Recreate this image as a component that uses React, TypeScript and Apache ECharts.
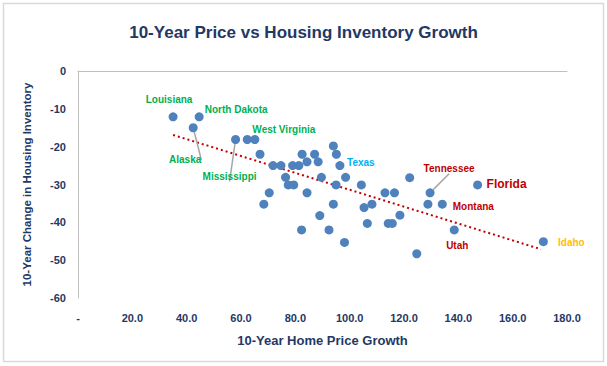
import React, { useEffect, useRef } from "react";
import * as echarts from "echarts";

// 10-year home price growth (x) and 10-year change in housing inventory (y), one point per state
const priceGrowth = [
  35.0, 44.6, 42.4, 58.0, 62.3, 65.1, 67.0, 71.8, 74.7, 76.4, 77.4, 79.4, 79.0, 81.3, 82.5, 84.3, 87.1,
  88.4, 94.0, 95.1, 96.4, 89.6, 95.0, 98.5, 104.3, 70.4, 68.4, 84.3, 94.0, 89.0, 82.3, 92.4, 98.1, 122.1,
  113.0, 116.5, 129.6, 108.2, 105.3, 118.5, 106.5, 114.2, 115.7, 128.8, 134.1, 138.5, 124.7, 147.1, 171.3,
];
const inventoryChange = [
  -12.1, -12.1, -15.0, -18.1, -18.1, -18.1, -22.0, -25.0, -25.0, -28.1, -30.1, -30.1, -25.0, -25.0, -22.0,
  -24.0, -22.0, -24.0, -19.8, -22.0, -25.0, -28.1, -30.1, -28.1, -30.1, -32.2, -35.2, -32.2, -35.2, -38.2,
  -42.0, -42.0, -45.3, -28.2, -32.2, -32.2, -32.2, -35.2, -36.1, -38.1, -40.3, -40.3, -40.3, -35.2, -35.2,
  -42.0, -48.3, -30.1, -45.1,
];
const stateNames = [
  "Louisiana", "North Dakota", "Alaska", "Mississippi", "", "West Virginia", "", "", "", "", "", "", "", "",
  "", "", "", "", "", "", "Texas", "", "", "", "", "", "", "", "", "", "", "", "", "", "", "", "Tennessee",
  "", "", "", "", "", "", "", "Montana", "Utah", "", "Florida", "Idaho",
];

// linear trend line end points
const trendX = [35.0, 170.4];
const trendY = [-16.9, -47.1];

// axis ticks
const xTicks = [0, 20, 40, 60, 80, 100, 120, 140, 160, 180];
const yTicks = [-60, -50, -40, -30, -20, -10, 0];

const GREEN = "#00B050";
const RED = "#C00000";
const NAVY = "#1F3864";

const labelStyles: Record<string, { color: string; offset: number[]; size?: number; guide?: boolean }> = {
  Louisiana: { color: GREEN, offset: [-4, -17] },
  "North Dakota": { color: GREEN, offset: [37, -7] },
  Alaska: { color: GREEN, offset: [-8, 32], guide: true },
  Mississippi: { color: GREEN, offset: [-6, 37], guide: true },
  "West Virginia": { color: GREEN, offset: [29, -10] },
  Texas: { color: "#00B0F0", offset: [21, -3] },
  Tennessee: { color: RED, offset: [19, -24], guide: true },
  Florida: { color: RED, offset: [29, -1], size: 12 },
  Montana: { color: RED, offset: [31, 2] },
  Utah: { color: RED, offset: [3, 16] },
  Idaho: { color: "#FFC000", offset: [28, 1] },
};

const FONT = "'Liberation Sans', Arial, sans-serif";

export default function App() {
  const ref = useRef<HTMLDivElement>(null);
  useEffect(() => {
    if (!ref.current) return;
    const chart = echarts.init(ref.current, null, { renderer: "svg" });

    const points = priceGrowth.map((x, i) => {
      const name = stateNames[i];
      const st = name ? labelStyles[name] : undefined;
      const item: any = { value: [x, inventoryChange[i]], name };
      if (st) {
        item.label = {
          show: true,
          formatter: name,
          position: "inside",
          offset: st.offset,
          color: st.color,
          fontSize: st.size || 10,
          fontWeight: "bold",
          fontFamily: FONT,
        };
        if (st.guide) {
          item.labelLine = { show: true, lineStyle: { color: "#A6A6A6", width: 1.5 } };
        }
      }
      return item;
    });

    chart.setOption({
      animation: false,
      backgroundColor: "#ffffff",
      title: {
        text: "10-Year Price vs Housing Inventory Growth",
        left: "center",
        top: 19,
        textStyle: { color: NAVY, fontSize: 17, fontWeight: "bold", fontFamily: FONT },
      },
      grid: { left: 78, top: 71, right: 40, bottom: 68, containLabel: false },
      xAxis: [
        {
          type: "value",
          min: xTicks[0],
          max: xTicks[xTicks.length - 1],
          interval: 20,
          position: "bottom",
          axisLine: { show: false, onZero: false },
          axisTick: { show: false },
          splitLine: { show: false },
          axisLabel: {
            margin: 14,
            color: NAVY,
            fontWeight: "bold",
            fontSize: 11,
            fontFamily: FONT,
            formatter: (v: number) => (v === 0 ? "-" : v.toFixed(1)),
          },
          name: "10-Year Home Price Growth",
          nameLocation: "middle",
          nameGap: 36,
          nameTextStyle: { color: NAVY, fontWeight: "bold", fontSize: 13, fontFamily: FONT },
        },
        {
          type: "value",
          min: xTicks[0],
          max: xTicks[xTicks.length - 1],
          position: "top",
          axisLine: { show: true, onZero: false, lineStyle: { color: "#BFBFBF", width: 1 } },
          axisTick: { show: false },
          axisLabel: { show: false },
          splitLine: { show: false },
        },
      ],
      yAxis: {
        type: "value",
        min: yTicks[0],
        max: yTicks[yTicks.length - 1],
        interval: 10,
        axisLine: { show: true, onZero: false, lineStyle: { color: "#BFBFBF", width: 1 } },
        axisTick: { show: false },
        splitLine: { show: false },
        axisLabel: { margin: 12, color: NAVY, fontWeight: "bold", fontSize: 11, fontFamily: FONT },
        name: "10-Year Change in Housing Inventory",
        nameLocation: "middle",
        nameGap: 45,
        nameTextStyle: { color: NAVY, fontWeight: "bold", fontSize: 11.5, fontFamily: FONT },
      },
      graphic: [
        {
          type: "rect",
          shape: { x: 3.5, y: 3.5, width: 600, height: 358 },
          style: { fill: "none", stroke: "#D9D9D9", lineWidth: 1.5 },
          silent: true,
          z: -1,
        },
      ],
      series: [
        {
          type: "line",
          data: trendX.map((x, i) => [x, trendY[i]]),
          showSymbol: false,
          symbol: "none",
          lineStyle: { color: RED, width: 2, type: [2, 3] },
          z: 1,
        },
        {
          type: "scatter",
          data: points,
          symbolSize: 9,
          itemStyle: { color: "#4F81BD", opacity: 1 },
          label: { show: false },
          z: 2,
        },
      ],
    });
    return () => chart.dispose();
  }, []);
  return (
    <div
      ref={ref}
      style={{ position: "fixed", left: 0, top: 0, width: 607, height: 366 }}
    />
  );
}
